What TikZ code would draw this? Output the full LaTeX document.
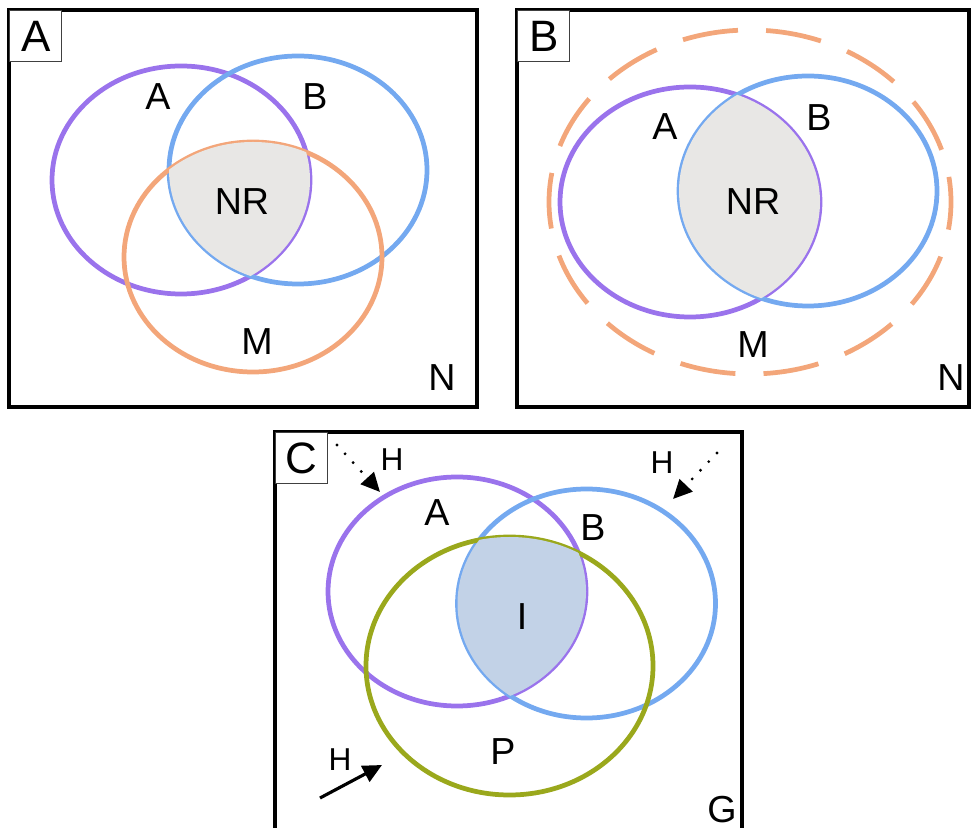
\documentclass[tikz,border=0pt]{standalone}
\usepackage{fontspec}
\setmainfont{Liberation Sans}
\usetikzlibrary{arrows.meta}
\definecolor{setA}{HTML}{9A73EC}
\definecolor{setB}{HTML}{74A9F0}
\definecolor{setM}{HTML}{F3A67A}
\definecolor{setP}{HTML}{9AA81C}
\definecolor{fillNR}{HTML}{E8E7E5}
\definecolor{fillI}{HTML}{C2D2E7}
\tikzset{
  frame/.style={draw=black,line width=0.9pt},
  tag/.style={draw=black!75,line width=0.4pt,fill=white,anchor=north west,
    minimum width=0.52cm,minimum height=0.51cm,inner sep=0pt,
    font=\fontsize{12.5}{14}\selectfont},
  ring/.style={line width=1.35pt},
  lbl/.style={inner sep=0pt,font=\fontsize{10.7}{12}\selectfont},
  hlbl/.style={inner sep=0pt,font=\fontsize{9}{11}\selectfont},
  hit/.style={line width=0.9pt,-{Triangle[length=5.4pt,width=5pt]}},
  hitdot/.style={hit,line cap=round,dash pattern=on 0pt off 3.4pt}
}
\begin{document}
\begin{tikzpicture}[x=0.01cm,y=-0.01cm]
\clip (0,0) rectangle (973,828);
% panel A
\draw[frame] (9,10) rectangle (477,407);
\draw[ring,setA] (181,180) ellipse [x radius=129, y radius=114];
\draw[ring,setB] (298,170) ellipse [x radius=129, y radius=114];
\draw[ring,setM] (253,257) ellipse [x radius=129, y radius=115];
\begin{scope}
  \clip (181,180) ellipse [x radius=129, y radius=114];
  \clip (298,170) ellipse [x radius=129, y radius=114];
  \fill[fillNR] (253,257) ellipse [x radius=129, y radius=115];
\end{scope}
\node[tag] (tagA) at (9,10) {A};
\node[lbl] (a1) at (158,97) {A};
\node[lbl] (b1) at (315,97) {B};
\node[lbl] (nr1) at (242,202) {NR};
\node[lbl] (m1) at (257,342) {M};
\node[lbl] (n1) at (442,378) {N};
% panel B
\draw[frame] (517,10) rectangle (969,407);
\draw[ring,setM,dash pattern=on 15.9pt off 8pt,dash phase=8pt] (750,202) ellipse [x radius=201, y radius=172];
\draw[ring,setA] (690,202) ellipse [x radius=130, y radius=115];
\draw[ring,setB] (808,191) ellipse [x radius=129, y radius=115];
\begin{scope}
  \clip (690,202) ellipse [x radius=130, y radius=115];
  \fill[fillNR] (808,191) ellipse [x radius=129, y radius=115];
\end{scope}
\node[tag] (tagB) at (517,10) {B};
\node[lbl] (a2) at (665,127) {A};
\node[lbl] (b2) at (819,118) {B};
\node[lbl] (nr2) at (753,202) {NR};
\node[lbl] (m2) at (753,345) {M};
\node[lbl] (n2) at (951,378) {N};
% panel C
\draw[frame] (275,432) rectangle (742,845);
\draw[ring,setA] (457,591.5) ellipse [x radius=129, y radius=114.5];
\draw[ring,setB] (586.5,603.5) ellipse [x radius=129, y radius=114.5];
\draw[ring,setP] (509.5,666) ellipse [x radius=143.5, y radius=129];
\begin{scope}
  \clip (457,591.5) ellipse [x radius=129, y radius=114.5];
  \clip (586.5,603.5) ellipse [x radius=129, y radius=114.5];
  \fill[fillI] (509.5,666) ellipse [x radius=143.5, y radius=129];
\end{scope}
\node[tag] (tagC) at (275,432) {C};
\node[lbl] (a3) at (437,513) {A};
\node[lbl] (b3) at (593,528) {B};
\node[lbl] (i3) at (522,617) {I};
\node[lbl] (p3) at (503,752) {P};
\node[lbl] (g3) at (722,810) {G};
\node[hlbl] (h1) at (392,460) {H};
\node[hlbl] (h2) at (662,463) {H};
\node[hlbl] (h3) at (340,760) {H};
\coordinate (h1s) at (337,445);
\coordinate (h1e) at (380,492);
\coordinate (h2s) at (717,453);
\coordinate (h2e) at (673,499);
\coordinate (h3s) at (320,798);
\coordinate (h3e) at (382,765);
\draw[hitdot] (h1s) -- (h1e);
\draw[hitdot] (h2s) -- (h2e);
\draw[hit] (h3s) -- (h3e);
\end{tikzpicture}
\end{document}
